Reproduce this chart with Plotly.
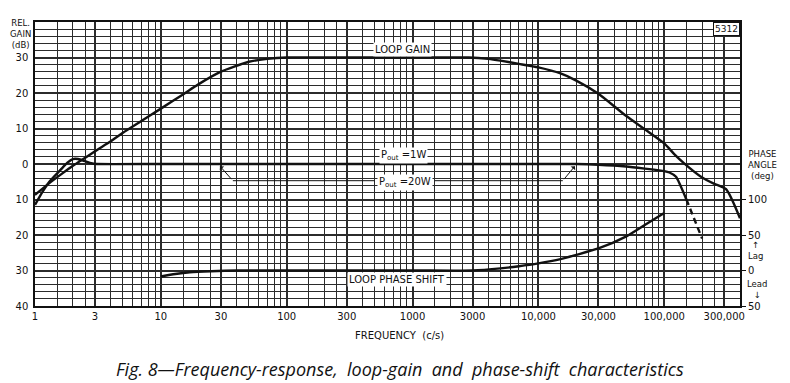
import math
import plotly.graph_objects as go

# ---------------- data ----------------
gain_freq = [1, 1.3, 1.6, 2, 2.3, 3, 4, 5, 7, 10, 15, 20, 30, 50, 70, 100, 300, 1000,
             2800, 4000, 5000, 7000, 10000, 15000, 20000, 30000, 50000, 70000, 100000,
             120000, 144000, 200000, 250000, 310000, 400000]
gain_db = [-8.7, -5.4, -3.0, -0.5, 0.9, 3.6, 6.4, 8.8, 12.1, 15.6, 19.6, 22.5, 26.0, 28.8,
           29.6, 30.0, 30.0, 30.0, 30.0, 29.6, 29.1, 28.2, 27.2, 25.5, 23.5, 19.8, 13.5,
           9.8, 5.8, 2.8, 0.2, -3.8, -5.6, -7.1, -15.3]

p1w_freq = [1, 1.15, 1.3, 1.6, 1.8, 2, 2.2, 2.5, 2.8, 3.1, 10, 100, 1000, 10000, 20000,
            30000, 50000, 70000, 100000, 110000, 124000, 150000]
p1w_db = [-11.5, -7.8, -5.0, -1.6, 0.3, 1.4, 1.4, 0.8, 0.2, 0.0, 0.0, 0.0, 0.0, 0.0, 0.0,
          -0.2, -0.7, -1.3, -2.0, -2.4, -3.6, -10.0]
p1w_dash_freq = [150000, 200000]
p1w_dash_db = [-10.0, -21.0]

phase_freq = [10, 13, 17, 25, 40, 100, 1000, 3000, 5000, 7000, 10000, 15000, 20000,
              30000, 50000, 70000, 100000]
phase_deg = [-8.5, -5.0, -2.5, -1.0, 0.0, 0.0, 0.0, 0.0, 3.0, 6.0, 10.0, 16.0, 22.0,
             31.0, 48.0, 64.0, 81.0]

x_tickvals = [1, 3, 10, 30, 100, 300, 1000, 3000, 10000, 30000, 100000, 300000]
x_ticktext = ["1", "3", "10", "30", "100", "300", "1000", "3000", "10,000", "30,000",
              "100,000", "300,000"]
y_tickvals = [-40, -30, -20, -10, 0, 10, 20, 30]
y_ticktext = ["40", "30", "20", "10", "0", "10", "20", "30"]
ph_tickvals = [-50, 0, 50, 100]
ph_ticktext = ["50", "0", "50", "100"]

# ---------------- figure ----------------
FONT = "DejaVu Sans"
INK = "#111111"
GRID = "#2b2b2b"

minor_x = []
for dec in range(0, 6):
    for m in [1.5, 2, 2.5, 4, 5, 6, 7, 8, 9]:
        v = m * 10 ** dec
        if v < 400000 and v not in x_tickvals:
            minor_x.append(v)
    if 10 ** dec not in x_tickvals:
        minor_x.append(10 ** dec)

fig = go.Figure()
line_style = dict(color=INK, width=2.4)
fig.add_trace(go.Scatter(x=gain_freq, y=gain_db, mode="lines",
                         line=dict(line_style, shape="spline", smoothing=0.6),
                         hoverinfo="skip", showlegend=False))
fig.add_trace(go.Scatter(x=p1w_freq, y=p1w_db, mode="lines",
                         line=dict(line_style, shape="spline", smoothing=0.5),
                         hoverinfo="skip", showlegend=False))
fig.add_trace(go.Scatter(x=p1w_dash_freq, y=p1w_dash_db, mode="lines",
                         line=dict(color=INK, width=2.4, dash="6px,4px"),
                         hoverinfo="skip", showlegend=False))
fig.add_trace(go.Scatter(x=phase_freq, y=phase_deg, mode="lines", yaxis="y2",
                         line=dict(line_style, shape="spline", smoothing=0.6),
                         hoverinfo="skip", showlegend=False))

fig.update_layout(
    width=790, height=383,
    margin=dict(l=35, r=50, t=22, b=77),
    paper_bgcolor="white", plot_bgcolor="white",
    font=dict(family=FONT, size=10, color=INK),
    xaxis=dict(type="log", range=[0, math.log10(400000)],
               tickvals=x_tickvals, ticktext=x_ticktext, ticks="",
               showgrid=True, gridcolor=GRID, gridwidth=1.5,
               minor=dict(tickvals=minor_x, showgrid=True, gridcolor=GRID, gridwidth=1, ticks=""),
               showline=True, linecolor=INK, linewidth=1.5, mirror=True,
               tickfont=dict(size=10), zeroline=False, automargin=False),
    yaxis=dict(range=[-40, 40], tickvals=y_tickvals, ticktext=y_ticktext, ticks="",
               showgrid=True, gridcolor=GRID, gridwidth=1.5,
               minor=dict(dtick=2, tick0=0, showgrid=True, gridcolor=GRID, gridwidth=1, ticks=""),
               showline=True, linecolor=INK, linewidth=1.5, mirror=True,
               zeroline=False, tickfont=dict(size=10), ticklabelstandoff=3, automargin=False),
    yaxis2=dict(overlaying="y", side="right", range=[-50, 350],
                tickvals=ph_tickvals, ticktext=ph_ticktext,
                ticks="outside", ticklen=5, tickcolor=INK, tickwidth=1,
                showgrid=False, zeroline=False, tickfont=dict(size=10), automargin=False),
)

def lx(f):
    return math.log10(f)

ann = []
def label(text, x, y):
    ann.append(dict(text=text, x=x, y=y, xref="x", yref="y", showarrow=False,
                    bgcolor="white", borderpad=1, font=dict(size=10, family=FONT)))

label("LOOP GAIN", 2.923, 32.2)
label("P<sub>out</sub> =1W", 2.93, 2.5)
label("P<sub>out</sub> =20W", 2.94, -5.3)
label("LOOP PHASE SHIFT", 2.88, -32.5)

def seg(x0, y0, x1, y1, head):
    ann.append(dict(text="", x=x1, y=y1, ax=x0, ay=y0, xref="x", yref="y",
                    axref="x", ayref="y", showarrow=True, arrowhead=head,
                    arrowsize=1.0, arrowwidth=1, arrowcolor=INK, standoff=0,
                    startstandoff=0))

seg(2.71, -4.7, 1.572, -4.7, 0)
seg(1.572, -4.7, lx(29.5), -0.6, 1)
seg(3.165, -4.7, 4.194, -4.7, 0)
seg(4.194, -4.7, 4.29, -0.6, 1)

def ptext(text, x, y, size=9, xanchor="center", family=FONT, style="normal"):
    ann.append(dict(text=text, x=x, y=y, xref="paper", yref="paper", showarrow=False,
                    xanchor=xanchor, yanchor="middle", align="center",
                    font=dict(size=size, family=family, color=INK, style=style)))

ptext("REL.<br>GAIN<br>(dB)", -0.0199, 0.957, size=8.5)
ptext("PHASE<br>ANGLE<br>(deg)", 1.0326, 0.4950, size=8.5)
ptext("↑<br>Lag", 1.0215, 0.194, size=8.5)
ptext("Lead<br>↓", 1.0240, 0.0580, size=8.5)
ptext("FREQUENCY  (c/s)", 0.5177, -0.1056, size=10)
ptext("Fig. 8—Frequency-response,  loop-gain  and  phase-shift  characteristics",
      0.518, -0.222, size=18, family="Open Sans", style="italic")
ann.append(dict(text="5312", x=1.0, y=1.0, xref="paper", yref="paper", showarrow=False,
                xanchor="right", yanchor="top", bgcolor="white", bordercolor=INK,
                borderwidth=1, borderpad=1, font=dict(size=9, family=FONT)))

fig.update_layout(annotations=ann)
fig.write_html("out.html", config={"displayModeBar": False},
               post_script="document.body.style.margin='0';")
